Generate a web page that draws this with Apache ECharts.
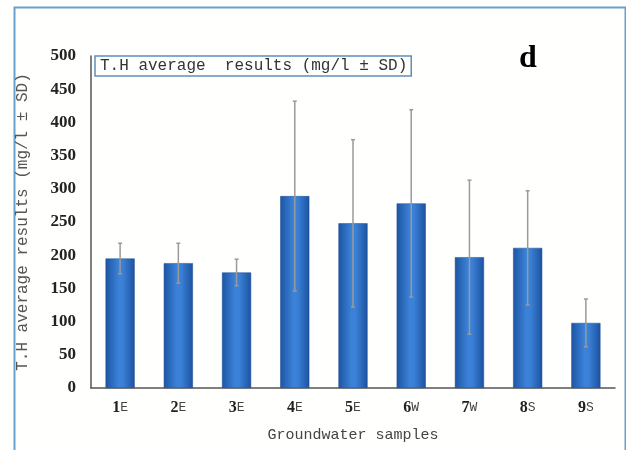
<!DOCTYPE html>
<html><head><meta charset="utf-8">
<script src="https://cdn.jsdelivr.net/npm/echarts@6/dist/echarts.min.js"></script>
<style>html,body{margin:0;padding:0;background:#fffffd;}#c{width:626px;height:450px;}</style>
</head><body><div id="c"></div>
<script>
const categories = ['1E','2E','3E','4E','5E','6W','7W','8S','9S'];
const meanValues = [195, 188, 174, 289, 248, 278, 197, 211, 98];
const sdValues = [23, 30, 20, 143, 126, 141, 116, 86, 36];
const yTicks = [0, 50, 100, 150, 200, 250, 300, 350, 400, 450, 500];
const seriesName = 'T.H average  results (mg/l \u00b1 SD)';

const chart = echarts.init(document.getElementById('c'), null, {renderer: 'canvas'});
const barGrad = new echarts.graphic.LinearGradient(0, 0, 1, 0, [
  {offset: 0, color: '#1d55a3'},
  {offset: 0.45, color: '#3b82d8'},
  {offset: 0.6, color: '#3a80d6'},
  {offset: 1, color: '#1c52a0'}
]);
chart.setOption({
  backgroundColor: '#fffffd',
  animation: false,
  title: {
    text: 'd', left: 514, top: 38,
    textStyle: {fontFamily: 'Liberation Serif', fontWeight: 'bold', fontSize: 32, color: '#000'}
  },
  legend: {
    left: 95, top: 56,
    data: [{name: seriesName, icon: 'none'}],
    itemWidth: 0, itemGap: 0,
    borderColor: '#5f8fb8', borderWidth: 1.5, padding: [2, 4, 2, 0],
    textStyle: {fontFamily: 'Liberation Mono', fontSize: 16, color: '#333'}
  },
  grid: {left: 91, right: 11, top: 56, bottom: 62},
  xAxis: {
    type: 'category', data: categories,
    name: 'Groundwater samples', nameLocation: 'middle', nameGap: 40,
    nameTextStyle: {fontFamily: 'Liberation Mono', fontSize: 15, color: '#444'},
    axisLine: {lineStyle: {color: '#555', width: 1.5}},
    axisTick: {show: false},
    axisLabel: {
      margin: 12, interval: 0,
      formatter: v => '{n|' + v[0] + '}{l|' + v.slice(1) + '}',
      rich: {
        n: {fontFamily: 'Liberation Serif', fontWeight: 'bold', fontSize: 16, color: '#222'},
        l: {fontFamily: 'Liberation Mono', fontSize: 13, color: '#444'}
      }
    }
  },
  yAxis: {
    type: 'value', min: yTicks[0], max: yTicks[yTicks.length - 1], interval: 50,
    name: 'T.H average results (mg/l \u00b1 SD)', nameLocation: 'middle', nameGap: 60, nameRotate: 90,
    nameTextStyle: {fontFamily: 'Liberation Mono', fontSize: 16, color: '#555'},
    axisLine: {show: true, lineStyle: {color: '#555', width: 1.5}},
    axisTick: {show: false},
    splitLine: {show: false},
    axisLabel: {
      margin: 15,
      fontFamily: 'Liberation Serif', fontWeight: 'bold', fontSize: 17, color: '#222'
    }
  },
  series: [
    {
      name: seriesName, type: 'bar', data: meanValues, barWidth: '50%',
      itemStyle: {color: barGrad, borderColor: '#1a4a8e', borderWidth: 0.5},
      z: 2
    },
    {
      name: 'sd', type: 'custom', z: 3,
      data: meanValues.map((m, i) => [i, m - sdValues[i], m + sdValues[i]]),
      renderItem: function (params, api) {
        const x = api.value(0);
        const lo = api.coord([x, api.value(1)]);
        const hi = api.coord([x, api.value(2)]);
        const cw = 2;
        const st = {stroke: '#9a9a9a', lineWidth: 1.5};
        return {
          type: 'group', children: [
            {type: 'line', shape: {x1: lo[0], y1: lo[1], x2: hi[0], y2: hi[1]}, style: st},
            {type: 'line', shape: {x1: hi[0] - cw, y1: hi[1], x2: hi[0] + cw, y2: hi[1]}, style: st},
            {type: 'line', shape: {x1: lo[0] - cw, y1: lo[1], x2: lo[0] + cw, y2: lo[1]}, style: st}
          ]
        };
      }
    }
  ],
  graphic: [
    {type: 'rect', left: 12, top: 5, shape: {width: 611, height: 460},
     style: {fill: 'none', stroke: '#6b9fcc', lineWidth: 2}, silent: true, z: -1}
  ]
});
</script></body></html>
